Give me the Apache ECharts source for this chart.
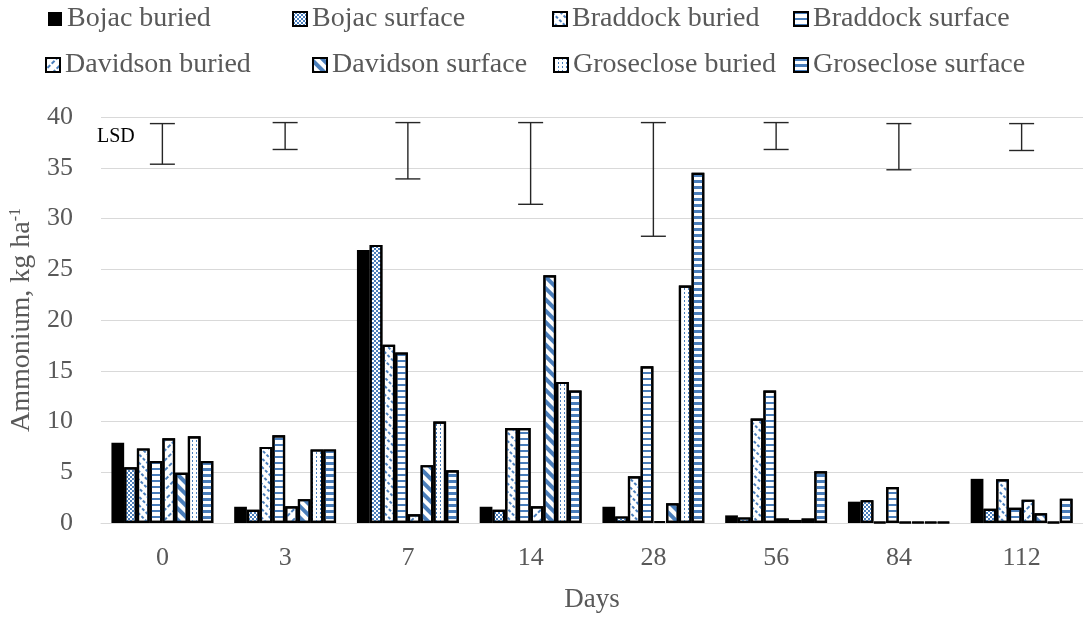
<!DOCTYPE html>
<html>
<head>
<meta charset="utf-8">
<script src="https://cdn.jsdelivr.net/npm/echarts@6/dist/echarts.min.js"></script>
<style>html,body{margin:0;padding:0;background:#fff}#c{width:1083px;height:620px}</style>
</head>
<body>
<div id="c"></div>
<script>
const days = ['0', '3', '7', '14', '28', '56', '84', '112'];
const yTicks = [0, 40, 5];
const bojacBuried = [7.9, 1.6, 26.9, 1.6, 1.6, 0.75, 2.1, 4.35];
const bojacSurface = [5.5, 1.3, 27.4, 1.3, 0.65, 0.55, 2.25, 1.4];
const braddockBuried = [7.35, 7.5, 17.55, 9.35, 4.6, 10.3, 0.1, 4.3];
const braddockSurface = [6.1, 8.65, 16.8, 9.35, 15.45, 13.05, 3.55, 1.5];
const davidsonBuried = [8.35, 1.65, 0.85, 1.65, 0.2, 0.45, 0.1, 2.3];
const davidsonSurface = [4.95, 2.35, 5.7, 24.4, 1.95, 0.3, 0.1, 0.95];
const groscloseBuried = [8.55, 7.25, 10.0, 13.9, 23.4, 0.45, 0.1, 0.1];
const groscloseSurface = [6.1, 7.25, 5.2, 13.05, 34.5, 5.1, 0.1, 2.4];
const lsdTop = [39.35, 39.45, 39.45, 39.45, 39.45, 39.45, 39.35, 39.35];
const lsdBottom = [35.35, 36.8, 33.9, 31.4, 28.25, 36.8, 34.8, 36.7];
const seriesNames = ['Bojac buried', 'Bojac surface', 'Braddock buried', 'Braddock surface',
  'Davidson buried', 'Davidson surface', 'Groseclose buried', 'Groseclose surface'];
const seriesValues = [bojacBuried, bojacSurface, braddockBuried, braddockSurface,
  davidsonBuried, davidsonSurface, groscloseBuried, groscloseSurface];

const BLUE = '#4a7ebb';
const FONT = 'Liberation Serif';
const TXT = '#595959';
const decals = [
  null,
  {symbol: 'rect', symbolSize: 1, color: BLUE, dashArrayX: [[2, 2], [0, 2, 2, 0]], dashArrayY: [2, 0]},
  {symbol: 'rect', symbolSize: 1, color: BLUE, dashArrayX: [3, 2], dashArrayY: [2, 4], rotation: Math.PI / 4},
  {symbol: 'rect', symbolSize: 1, color: BLUE, dashArrayX: [1, 0], dashArrayY: [2, 4]},
  {symbol: 'rect', symbolSize: 1, color: BLUE, dashArrayX: [4, 2], dashArrayY: [2, 5], rotation: -Math.PI / 4},
  {symbol: 'rect', symbolSize: 1, color: BLUE, dashArrayX: [1, 0], dashArrayY: [4, 4], rotation: Math.PI / 4},
  {symbol: 'rect', symbolSize: 1, color: BLUE, dashArrayX: [1, 3], dashArrayY: [2, 2]},
  {symbol: 'rect', symbolSize: 1, color: BLUE, dashArrayX: [1, 0], dashArrayY: [3, 3]}
];
const legendPos = [[48, 5], [292, 5], [552, 5], [793, 5], [45, 51], [312, 51], [553, 51], [793, 51]];

const barSeries = seriesNames.map((name, i) => {
  const itemStyle = i === 0
    ? {color: '#000', borderColor: '#000', borderWidth: 0}
    : {color: '#fff', borderColor: '#000', borderWidth: 2.2, decal: decals[i]};
  return {
    name, type: 'bar', data: seriesValues[i], barGap: '0%', barCategoryGap: '17%',
    itemStyle, emphasis: {disabled: true}
  };
});

const lsdData = days.map((d, i) => [i, lsdTop[i], lsdBottom[i]]);
const errSeries = {
  type: 'custom', name: 'LSD', data: lsdData, z: 10,
  encode: {x: 0, y: [1, 2]},
  renderItem: (params, api) => {
    const p1 = api.coord([api.value(0), api.value(1)]);
    const p2 = api.coord([api.value(0), api.value(2)]);
    const hw = 12.5;
    const st = {stroke: '#262626', lineWidth: 1.4};
    return {type: 'group', children: [
      {type: 'line', shape: {x1: p1[0], y1: p1[1], x2: p2[0], y2: p2[1]}, style: st},
      {type: 'line', shape: {x1: p1[0] - hw, y1: p1[1], x2: p1[0] + hw, y2: p1[1]}, style: st},
      {type: 'line', shape: {x1: p2[0] - hw, y1: p2[1], x2: p2[0] + hw, y2: p2[1]}, style: st}
    ]};
  }
};

const chart = echarts.init(document.getElementById('c'), null, {renderer: 'canvas'});
chart.setOption({
  animation: false,
  aria: {enabled: false, decal: {show: true}},
  textStyle: {fontFamily: FONT},
  legend: seriesNames.map((n, i) => ({
    data: [{name: n, icon: 'rect'}], left: legendPos[i][0], top: legendPos[i][1], padding: 0,
    itemWidth: 14, itemHeight: 14, selectedMode: false,
    textStyle: {fontFamily: FONT, fontSize: 28, color: TXT}
  })),
  grid: {left: 101, right: -3, top: 117, bottom: 97, containLabel: false},
  xAxis: {
    type: 'category', data: days,
    axisLine: {lineStyle: {color: '#d9d9d9', width: 1}},
    axisTick: {show: false},
    axisLabel: {fontFamily: FONT, fontSize: 26, color: TXT, margin: 22},
    name: 'Days', nameLocation: 'middle', nameGap: 63,
    nameTextStyle: {fontFamily: FONT, fontSize: 27, color: TXT}
  },
  yAxis: {
    type: 'value', min: yTicks[0], max: yTicks[1], interval: yTicks[2],
    axisLine: {show: false}, axisTick: {show: false},
    splitLine: {lineStyle: {color: '#d9d9d9', width: 1}},
    axisLabel: {fontFamily: FONT, fontSize: 26, color: TXT, margin: 28},
    name: 'Ammonium, kg ha{sup|-1}', nameLocation: 'middle', nameGap: 62,
    nameTextStyle: {fontFamily: FONT, fontSize: 28, color: TXT,
      rich: {sup: {fontFamily: FONT, fontSize: 16, color: TXT, verticalAlign: 'top', padding: [0, 0, 10, 0]}}}
  },
  graphic: [{type: 'text', left: 97, top: 127, style: {text: 'LSD', font: '20px "Liberation Serif"', fill: '#000'}}],
  series: [...barSeries, errSeries]
});
</script>
</body>
</html>
